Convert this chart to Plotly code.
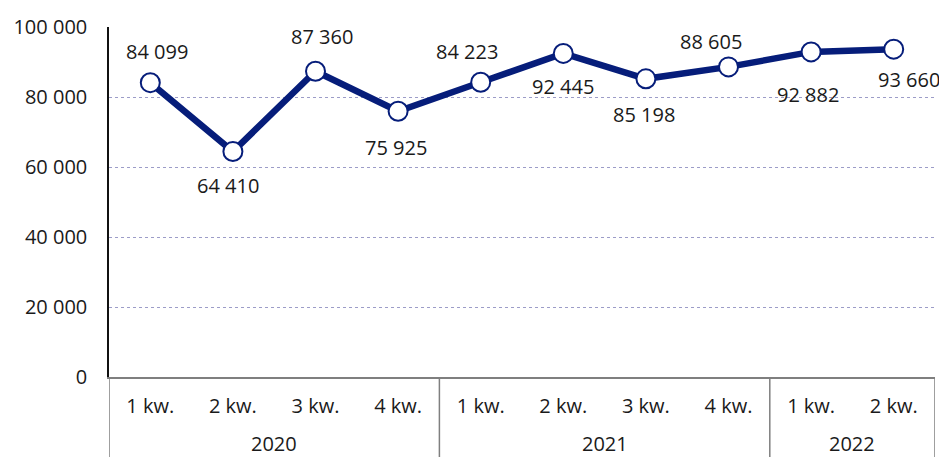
import plotly.graph_objects as go

years = ["2020", "2020", "2020", "2020", "2021", "2021", "2021", "2021", "2022", "2022"]
quarters = ["1 kw.", "2 kw.", "3 kw.", "4 kw.", "1 kw.", "2 kw.", "3 kw.", "4 kw.", "1 kw.", "2 kw."]
values = [84099, 64410, 87360, 75925, 84223, 92445, 85198, 88605, 92882, 93660]
value_labels = ["84 099", "64 410", "87 360", "75 925", "84 223", "92 445", "85 198", "88 605", "92 882", "93 660"]
y_ticks = [0, 20000, 40000, 60000, 80000, 100000]
y_tick_labels = ["0", "20 000", "40 000", "60 000", "80 000", "100 000"]

# label offsets in pixels (placement of data labels)
label_dx = [7, -5, 6, -2, -14, 0, -2, -18, -3, 15]
label_dy = [31, -34, 35, -36, 31, -33, -36, 25, -43, -30]

NAVY = "#061d7a"
FONT = "Open Sans"
TXT = "#1a1a1a"
DIV = "#7f7f7f"

idx = list(range(len(values)))

fig = go.Figure()
fig.add_trace(go.Scatter(
    x=idx, y=values, mode="lines+markers",
    line=dict(color=NAVY, width=6.5),
    marker=dict(size=19, color="white", line=dict(color=NAVY, width=2)),
    showlegend=False, hoverinfo="skip",
))

for i, (v, t) in enumerate(zip(values, value_labels)):
    fig.add_annotation(x=i, y=v, xref="x", yref="y", text=t, showarrow=False,
                       xshift=label_dx[i], yshift=label_dy[i],
                       font=dict(family=FONT, size=20, color=TXT))

# group dividers and year labels from the years array
groups = []
for i, yr in enumerate(years):
    if not groups or groups[-1][0] != yr:
        groups.append([yr, i, i])
    else:
        groups[-1][2] = i
bounds = [groups[0][1] - 0.5] + [g[2] + 0.5 for g in groups]
for b in bounds:
    fig.add_shape(type="line", xref="x", yref="paper", x0=b, x1=b, y0=0, y1=-0.235,
                  line=dict(color=DIV, width=1.5), layer="above")
for yr, a, b in groups:
    fig.add_annotation(x=(a + b) / 2, y=-0.1886, xref="x", yref="paper", text=yr,
                       showarrow=False, yanchor="middle", borderpad=0,
                       font=dict(family=FONT, size=20, color=TXT))

# page body has an 8px margin, so the figure is sized to fit the 947x457 window
fig.update_layout(
    width=939, height=449,
    margin=dict(l=101, r=12, t=19, b=80),
    paper_bgcolor="white", plot_bgcolor="white",
    font=dict(family=FONT, size=20, color=TXT),
    xaxis=dict(
        range=[-0.5, 9.5], tickvals=idx, ticktext=quarters,
        showline=True, linecolor=DIV, linewidth=1.5,
        showgrid=False, zeroline=False,
        ticks="outside", ticklen=10, tickcolor="rgba(0,0,0,0)",
        automargin=False,
        tickfont=dict(family=FONT, size=20, color=TXT),
    ),
    yaxis=dict(
        range=[0, 100000], tickvals=y_ticks, ticktext=y_tick_labels,
        showline=True, linecolor="#111111", linewidth=1.5,
        showgrid=True, gridcolor="#9c9cc8", gridwidth=1, griddash="dot",
        ticks="outside", ticklen=16, tickcolor="rgba(0,0,0,0)",
        zeroline=False, automargin=False,
        tickfont=dict(family=FONT, size=20, color=TXT),
    ),
)

fig.write_html("out.html")
